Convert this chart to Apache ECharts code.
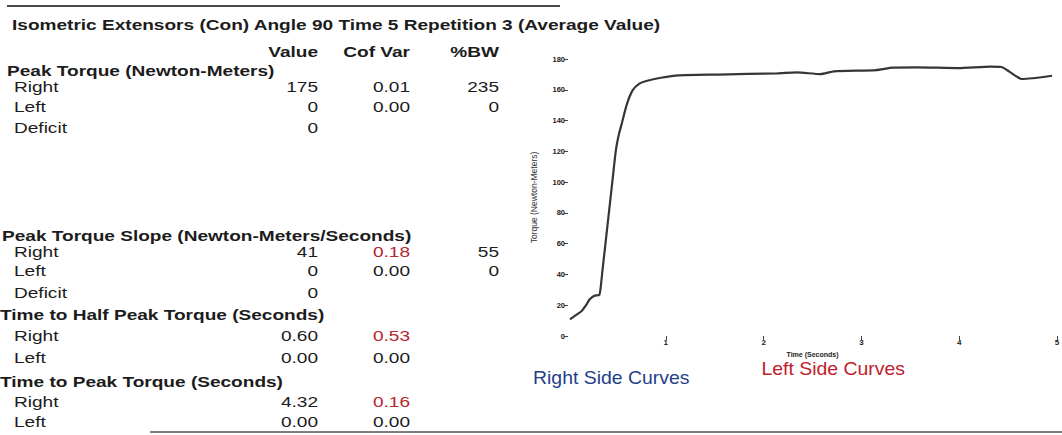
<!DOCTYPE html>
<html>
<head>
<meta charset="utf-8">
<title>Isometric Extensors</title>
<script src="https://cdn.jsdelivr.net/npm/echarts@6/dist/echarts.min.js"></script>
<style>
  html, body { margin: 0; padding: 0; background: #ffffff; }
  #chart { width: 1062px; height: 435px; }
</style>
</head>
<body>
<div id="chart"></div>
<script>
// ---- Torque curve (right side, averaged repetition) ----
const timeSec = [0.02, 0.08, 0.14, 0.19, 0.22, 0.27, 0.32, 0.335, 0.35, 0.38, 0.42, 0.46, 0.49, 0.52, 0.55, 0.60,
                 0.66, 0.73, 0.80, 0.95, 1.13, 1.54, 2.14, 2.34, 2.58, 2.72, 3.15, 3.32, 3.56, 3.99,
                 4.32, 4.43, 4.52, 4.64, 4.75, 4.95];
const torqueNm = [10.8, 13.5, 16.3, 20.5, 23.7, 26.1, 26.8, 32, 41.2, 58.3, 81.2, 104, 121, 131, 138.1, 150.2,
                  159.6, 164, 165.7, 167.8, 169.4, 169.9, 170.7, 171.3, 170.2, 172, 172.8, 174.4, 174.6, 174.1,
                  175, 174.8, 171.5, 167, 167.5, 169.1];
const timeTicks = [1, 2, 3, 4, 5];
const torqueTicks = [0, 20, 40, 60, 80, 100, 120, 140, 160, 180];

// ---- Summary table ----
const reportTitle = 'Isometric Extensors (Con) Angle 90 Time 5 Repetition 3 (Average Value)';
const columnHeads = ['Value', 'Cof Var', '%BW'];
const sectionTitles = [
  'Peak Torque (Newton-Meters)',
  'Peak Torque Slope (Newton-Meters/Seconds)',
  'Time to Half Peak Torque (Seconds)',
  'Time to Peak Torque (Seconds)'
];
const peakTorqueRows = [['Right', '175', '0.01', '235'], ['Left', '0', '0.00', '0'], ['Deficit', '0', '', '']];
const torqueSlopeRows = [['Right', '41', '0.18', '55'], ['Left', '0', '0.00', '0'], ['Deficit', '0', '', '']];
const halfPeakTimeRows = [['Right', '0.60', '0.53', ''], ['Left', '0.00', '0.00', '']];
const peakTimeRows = [['Right', '4.32', '0.16', ''], ['Left', '0.00', '0.00', '']];
const sideCaptions = ['Right Side Curves', 'Left Side Curves'];

// ---- Layout ----
const FONT = '"Liberation Sans", Arial, Helvetica, sans-serif';
const INK = '#1c1c1c';
const ALERT = '#b3262f';
const STRETCH = 1.23;           // report type is set slightly wide
const colRight = [318, 410, 499];
const rowLabelX = 14;
const sectionHeadX = [7, 2, 0, 0];
const sectionHeadY = [70.5, 236, 314.5, 382];
const sectionRowY = [[87, 107, 128], [251.5, 271, 292.5], [336, 358], [401.5, 422]];
const sectionRows = [peakTorqueRows, torqueSlopeRows, halfPeakTimeRows, peakTimeRows];

function label(x, y, text, opt) {
  opt = opt || {};
  return {
    type: 'text',
    x: x, y: y,
    scaleX: opt.scaleX || STRETCH,
    silent: true,
    style: {
      text: text,
      fontFamily: FONT,
      fontSize: opt.size || 15.5,
      fontWeight: opt.bold ? 'bold' : 'normal',
      fill: opt.color || INK,
      align: opt.align || 'left',
      verticalAlign: 'middle'
    }
  };
}

const elements = [];
// rules above and below the report block
elements.push({ type: 'line', silent: true, shape: { x1: 7, y1: 6, x2: 560, y2: 6 },
  style: { stroke: '#4a4a4a', lineWidth: 2 } });
elements.push({ type: 'line', silent: true, shape: { x1: 150, y1: 432, x2: 1062, y2: 432 },
  style: { stroke: '#555555', lineWidth: 1.5 } });

elements.push(label(12, 25, reportTitle, { bold: true }));
columnHeads.forEach((h, i) => elements.push(label(colRight[i], 52, h, { bold: true, align: 'right' })));

sectionTitles.forEach((title, s) => {
  elements.push(label(sectionHeadX[s], sectionHeadY[s], title, { bold: true }));
  sectionRows[s].forEach((row, r) => {
    const y = sectionRowY[s][r];
    elements.push(label(rowLabelX, y, row[0]));
    for (let c = 1; c < row.length; c++) {
      if (!row[c]) continue;
      // coefficient of variation above 15% is flagged
      const flagged = c === 2 && parseFloat(row[c]) > 0.15;
      elements.push(label(colRight[c - 1], y, row[c], { align: 'right', color: flagged ? ALERT : INK }));
    }
  });
});

elements.push(label(533, 377.5, sideCaptions[0], { size: 18, scaleX: 1.08, color: '#1f3f8a' }));
elements.push(label(905, 369, sideCaptions[1], { size: 18, scaleX: 1.08, color: '#c0202c', align: 'right' }));

const chart = echarts.init(document.getElementById('chart'), null, { renderer: 'svg' });
chart.setOption({
  backgroundColor: '#ffffff',
  animation: false,
  textStyle: { fontFamily: FONT },
  grid: { left: 568, top: 59, width: 489, height: 277, outerBoundsMode: 'none' },
  xAxis: {
    type: 'value', min: 0, max: 5, interval: 1,
    name: 'Time (Seconds)', nameLocation: 'middle', nameGap: 13,
    nameTextStyle: { fontSize: 7, fontWeight: 'bold', color: '#222' },
    axisLine: { show: false },
    axisTick: { show: true, length: 4, customValues: timeTicks, lineStyle: { color: '#444', width: 1 } },
    axisLabel: { customValues: timeTicks, fontSize: 8, fontWeight: 'bold', color: '#1a1a1a', margin: 2 },
    splitLine: { show: false }
  },
  yAxis: {
    type: 'value', min: 0, max: 180, interval: 20,
    name: 'Torque (Newton-Meters)', nameLocation: 'middle', nameGap: 30,
    nameTextStyle: { fontSize: 8.5, color: '#333' },
    axisLine: { show: false },
    axisTick: { show: true, length: 4, customValues: torqueTicks, lineStyle: { color: '#444', width: 1 } },
    axisLabel: { customValues: torqueTicks, fontSize: 7.5, fontWeight: 'bold', color: '#1a1a1a', margin: 3 },
    splitLine: { show: false }
  },
  series: [{
    type: 'line',
    name: 'Right',
    data: timeSec.map((t, i) => [t, torqueNm[i]]),
    showSymbol: false,
    smooth: 0.2,
    lineStyle: { color: '#363636', width: 2.2 },
    silent: true
  }],
  graphic: { elements: elements }
});
</script>
</body>
</html>
